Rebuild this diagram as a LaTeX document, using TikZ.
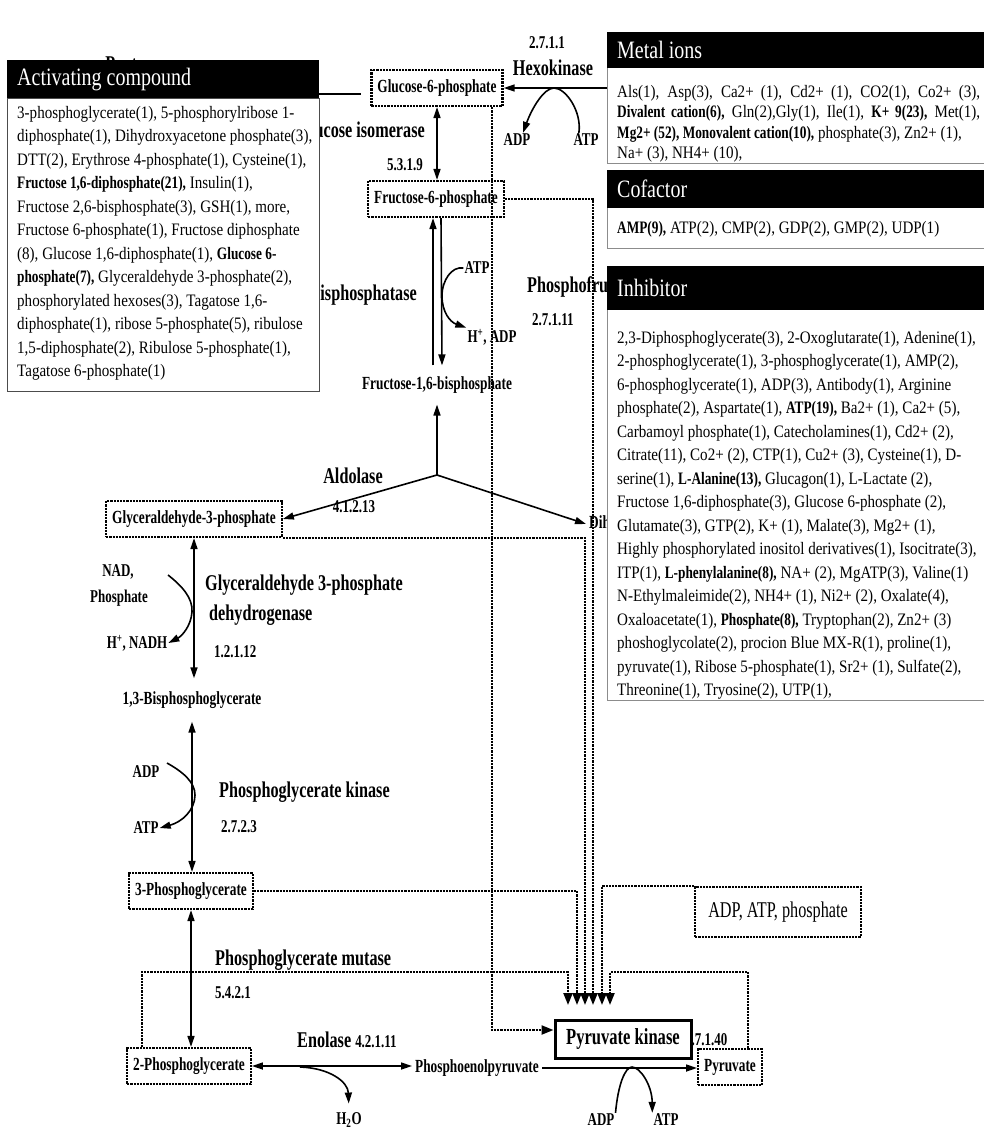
\documentclass[tikz,border=0pt]{standalone}
\usepackage{fontspec}
\setmainfont{Liberation Serif}
\newfontfamily\condfont[FakeStretch=0.72]{Liberation Serif}
\newfontfamily\bdfamily[FakeStretch=0.86]{Liberation Serif}
\newfontfamily\hlfamily[FakeStretch=0.76]{Liberation Serif}
\newfontfamily\hdfamily[FakeStretch=0.8]{Liberation Serif}
\usetikzlibrary{arrows.meta}

\newcommand{\metfont}{\condfont\bfseries\fontsize{18.5}{20}\selectfont}
\newcommand{\enzfont}{\condfont\bfseries\fontsize{22.5}{25}\selectfont}
\newcommand{\ecfont}{\condfont\bfseries\fontsize{18}{20}\selectfont}
\newcommand{\pkfont}{\condfont\bfseries\fontsize{23}{25}\selectfont}
\newcommand{\efffont}{\condfont\fontsize{22.5}{25}\selectfont}
\newcommand{\bodysize}{\bdfamily\fontsize{17.5}{23.5}\selectfont}
\newcommand{\headsize}{\hdfamily\fontsize{25}{27}\selectfont}
\newcommand{\hl}[1]{{\hlfamily\bfseries #1}}

\begin{document}
\begin{tikzpicture}[x=1pt, y=-1pt, >={Triangle[length=11pt,width=7pt]}]
    \tikzstyle{metbox} = [draw, line width=2.2pt, densely dotted, inner xsep=6pt, minimum height=36pt, font=\metfont]
    \tikzstyle{met} = [font=\metfont, inner sep=3pt]
    \tikzstyle{enz} = [font=\enzfont, inner sep=2pt]
    \tikzstyle{ec} = [font=\ecfont, inner sep=2pt]
    \tikzstyle{cof} = [font=\ecfont, inner sep=1pt]
    \tikzstyle{rxn} = [line width=1.6pt]
    \tikzstyle{dotline} = [line width=2.2pt, densely dotted, -{Triangle[length=12pt,width=9pt]}]
    \tikzstyle{bodytxt} = [anchor=north west, align=left, inner sep=0pt, font=\bodysize]
    \tikzstyle{headtxt} = [anchor=west, inner sep=0pt, text=white, font=\headsize]
    \tikzstyle{panel} = [draw=black!45, line width=0.6pt]

    \useasboundingbox (0,0) rectangle (983,1132);

    % Labels partly hidden by the panels
    \node[enz, anchor=base] (pentose) at (132,71) {Pentose};
    \coordinate (ppath) at (250,94);
    \node[enz, anchor=east] (pgi) at (427,132) {Phosphoglucose isomerase};
    \node[enz, anchor=east] (fbpase) at (419,295) {Fructose-1,6-bisphosphatase};
    \node[enz, anchor=west] (pfk) at (525,287) {Phosphofructokinase};
    \node[ec, anchor=west] (pfkec) at (530,320) {2.7.1.11};
    \coordinate (glc) at (650,88);

    % Metabolites
    \node[metbox] (g6p) at (437,88) {Glucose-6-phosphate};
    \node[metbox] (f6p) at (436,199) {Fructose-6-phosphate};
    \node[met, inner ysep=11pt] (fbp) at (437,385) {Fructose-1,6-bisphosphate};
    \node[metbox] (g3p) at (194,519) {Glyceraldehyde-3-phosphate};
    \node[met, anchor=west] (dhap) at (586,524) {Dihydroxyacetone phosphate};
    \node[met, inner ysep=13pt] (bpg) at (192,700) {1,3-Bisphosphoglycerate};
    \node[metbox] (pg3) at (191,891) {3-Phosphoglycerate};
    \node[metbox] (pg2) at (189,1066) {2-Phosphoglycerate};
    \node[met] (pep) at (477,1068) {Phosphoenolpyruvate};
    \node[metbox] (pyr) at (730,1067) {Pyruvate};
    \node[metbox, font=\efffont, inner xsep=13pt, minimum height=50pt] (eff) at (778,912) {ADP, ATP, phosphate};

    % Hexokinase
    \node[ec] (hkec) at (547,43) {2.7.1.1};
    \node[enz] (hk) at (553,68) {Hexokinase};
    \node[cof] (hkadp) at (517,140) {ADP};
    \node[cof] (hkatp) at (586,140) {ATP};
    \draw[rxn,->] (glc) -- (g6p.east);
    \draw[rxn,->] (hkatp.135) .. controls (582,112) and (566,88) .. (554,88) .. controls (544,88) and (532,108) .. (hkadp.50);
    \draw[line width=2pt, shorten >=9pt] (ppath) -- (ppath -| g6p.west);

    % Isomerase
    \node[ec] (pgiec) at (405,165) {5.3.1.9};
    \draw[rxn,<->] (g6p.south) -- (g6p.south |- f6p.north);

    % Phosphofructokinase / bisphosphatase
    \node[cof] (pfkatp) at (477,268) {ATP};
    \node[cof] (pfkadp) at (492,337) {H\textsuperscript{+}, ADP};
    \draw[rxn,->] ([xshift=-4pt]fbp.north) -- ([xshift=-3pt]f6p.south);
    \draw[rxn,->] ([xshift=5pt]f6p.south) -- ([xshift=5pt]fbp.north);
    \draw[rxn,->] (pfkatp.west) .. controls (452,266) and (442,280) .. (442,296) .. controls (442,312) and (450,322) .. (pfkadp.north west);

    % Aldolase
    \coordinate (ald) at (437,475);
    \node[enz] (aldn) at (353,476) {Aldolase};
    \node[ec] (aldec) at (354,507) {4.1.2.13};
    \draw[rxn,->] (ald) -- (ald |- fbp.south);
    \draw[rxn,->] (ald) -- (g3p.east);
    \draw[rxn,->] (ald) -- (dhap.west);

    % Glyceraldehyde 3-phosphate dehydrogenase
    \node[cof] (nad) at (118,572) {NAD,};
    \node[cof] (pi) at (119,598) {Phosphate};
    \node[cof] (nadh) at (137,643) {H\textsuperscript{+}, NADH};
    \node[enz, anchor=west] (gapdh) at (203,585) {Glyceraldehyde 3-phosphate};
    \node[enz, anchor=west] (gapdhb) at (207,615) {dehydrogenase};
    \node[ec, anchor=west] (gapdhec) at (212,652) {1.2.1.12};
    \coordinate (gapin) at (168,575);
    \draw[rxn,<->] (g3p.south) -- (g3p.south |- bpg.north);
    \draw[rxn,->] (gapin) .. controls (182,586) and (193,598) .. (192,612) .. controls (191,626) and (182,636) .. (nadh.east);

    % Phosphoglycerate kinase
    \node[cof] (pgkadp) at (146,772) {ADP};
    \node[cof] (pgkatp) at (146,828) {ATP};
    \node[enz, anchor=west] (pgk) at (217,792) {Phosphoglycerate kinase};
    \node[ec, anchor=west] (pgkec) at (219,827) {2.7.2.3};
    \coordinate (pgkin) at (167,763);
    \draw[rxn,<->] (bpg.south) -- (bpg.south |- pg3.north);
    \draw[rxn,->] (pgkin) .. controls (183,772) and (195,782) .. (195,795) .. controls (195,810) and (182,822) .. (pgkatp.east);

    % Phosphoglycerate mutase
    \node[enz, anchor=west] (pgm) at (213,960) {Phosphoglycerate mutase};
    \node[ec, anchor=west] (pgmec) at (213,993) {5.4.2.1};
    \draw[rxn,<->] (pg3.south) -- (pg3.south |- pg2.north);

    % Enolase
    \node[enz, anchor=west] (eno) at (295,1040) {Enolase {\ecfont 4.2.1.11}};
    \node[cof] (h2o) at (349,1120) {H\textsubscript{2}O};
    \coordinate (enoout) at (300,1067);
    \draw[rxn,<->] (pg2.east) -- (pg2.east -| pep.west);
    \draw[rxn,->, shorten >=8pt] (enoout) .. controls (330,1068) and (348,1082) .. (h2o.north);

    % Pyruvate kinase
    \node[ec, anchor=west] (pkec) at (683,1040) {2.7.1.40};
    \node[draw, line width=3pt, fill=white, minimum width=136pt, minimum height=38pt, inner sep=2pt, font=\pkfont] (pk) at (623,1039) {Pyruvate kinase};
    \node[cof] (pkadp) at (601,1120) {ADP};
    \node[cof] (pkatp) at (666,1120) {ATP};
    \draw[rxn,->] (pep.east) -- (pep.east -| pyr.west);
    \draw[rxn,->] (pkadp.north east) .. controls (618,1085) and (625,1067) .. (632,1067) .. controls (640,1067) and (652,1085) .. (pkatp.north west);

    % Effectors of pyruvate kinase
    \coordinate (c1) at (568,1005);
    \coordinate (c2) at (577,1005);
    \coordinate (c3) at (585,1005);
    \coordinate (c4) at (593,1005);
    \coordinate (c5) at (602,1005);
    \coordinate (c6) at (610,1005);
    \coordinate (mutl) at (142,972);
    \coordinate (mutr) at (748,972);
    \coordinate (g6pdn) at (492,1030);
    \draw[dotline] (g6p.south -| g6pdn) -- (g6pdn) -- (g6pdn -| pk.west);
    \draw[dotline] (f6p.east) -| (c4);
    \draw[dotline] (g3p.south east) -| (c3);
    \draw[dotline] (pg3.east) -| (c2);
    \draw[dotline] (eff.north west) -| (c5);
    \draw[dotline] (mutl |- pg2.north) -- (mutl) -| (c1);
    \draw[dotline] (mutr |- pyr.north) -- (mutr) -| (c6);

    % Activating compound
    \fill (7,60) rectangle (319,98);
    \node[headtxt] (acth) at (17,80) {Activating compound};
    \filldraw[fill=white, draw=black!70, line width=0.8pt] (7,98) rectangle (319,391);
    \node[bodytxt] (act) at (17,106) {3-phosphoglycerate(1), 5-phosphorylribose 1-\\
        diphosphate(1), Dihydroxyacetone phosphate(3),\\
        DTT(2), Erythrose 4-phosphate(1), Cysteine(1),\\
        \hl{Fructose 1,6-diphosphate(21),} Insulin(1),\\
        Fructose 2,6-bisphosphate(3), GSH(1), more,\\
        Fructose 6-phosphate(1), Fructose diphosphate\\
        (8), Glucose 1,6-diphosphate(1), \hl{Glucose 6-}\\
        \hl{phosphate(7),} Glyceraldehyde 3-phosphate(2),\\
        phosphorylated hexoses(3), Tagatose 1,6-\\
        diphosphate(1), ribose 5-phosphate(5), ribulose\\
        1,5-diphosphate(2), Ribulose 5-phosphate(1),\\
        Tagatose 6-phosphate(1)};

    % Metal ions
    \fill (607,32) rectangle (990,68);
    \node[headtxt] (metalh) at (617,50) {Metal ions};
    \fill[white] (607,68) rectangle (990,163);
    \draw[panel] (607,68) -- (607,163) -- (990,163);
    \node[bodytxt, font=\bdfamily\fontsize{17.5}{20.5}\selectfont] (metal) at (617,85) {\makebox[363pt][s]{Als(1), Asp(3), Ca2+ (1), Cd2+ (1), CO2(1), Co2+ (3),}\\
        \makebox[363pt][s]{\hl{Divalent cation(6),} Gln(2),Gly(1), Ile(1), \hl{K+ 9(23),} Met(1),}\\
        \hl{Mg2+ (52), Monovalent cation(10),} phosphate(3), Zn2+ (1),\\
        Na+ (3), NH4+ (10),};

    % Cofactor
    \fill (607,170) rectangle (990,208);
    \node[headtxt] (cofh) at (617,189) {Cofactor};
    \fill[white] (607,208) rectangle (990,248);
    \draw[panel] (607,208) -- (607,248) -- (990,248);
    \node[bodytxt] (cofac) at (617,221) {\hl{AMP(9),} ATP(2), CMP(2), GDP(2), GMP(2), UDP(1)};

    % Inhibitor
    \fill (607,266) rectangle (990,310);
    \node[headtxt] (inhh) at (617,288) {Inhibitor};
    \fill[white] (607,310) rectangle (990,700);
    \draw[panel] (607,310) -- (607,700) -- (990,700);
    \node[bodytxt] (inh) at (617,331) {2,3-Diphosphoglycerate(3), 2-Oxoglutarate(1), Adenine(1),\\
        2-phosphoglycerate(1), 3-phosphoglycerate(1), AMP(2),\\
        6-phosphoglycerate(1), ADP(3), Antibody(1), Arginine\\
        phosphate(2), Aspartate(1), \hl{ATP(19),} Ba2+ (1), Ca2+ (5),\\
        Carbamoyl phosphate(1), Catecholamines(1), Cd2+ (2),\\
        Citrate(11), Co2+ (2), CTP(1), Cu2+ (3), Cysteine(1), D-\\
        serine(1), \hl{L-Alanine(13),} Glucagon(1), L-Lactate (2),\\
        Fructose 1,6-diphosphate(3), Glucose 6-phosphate (2),\\
        Glutamate(3), GTP(2), K+ (1), Malate(3), Mg2+ (1),\\
        Highly phosphorylated inositol derivatives(1), Isocitrate(3),\\
        ITP(1), \hl{L-phenylalanine(8),} NA+ (2), MgATP(3), Valine(1)\\
        N-Ethylmaleimide(2), NH4+ (1), Ni2+ (2), Oxalate(4),\\
        Oxaloacetate(1), \hl{Phosphate(8),} Tryptophan(2), Zn2+ (3)\\
        phoshoglycolate(2), procion Blue MX-R(1), proline(1),\\
        pyruvate(1), Ribose 5-phosphate(1), Sr2+ (1), Sulfate(2),\\
        Threonine(1), Tryosine(2), UTP(1),};

\end{tikzpicture}
\end{document}
